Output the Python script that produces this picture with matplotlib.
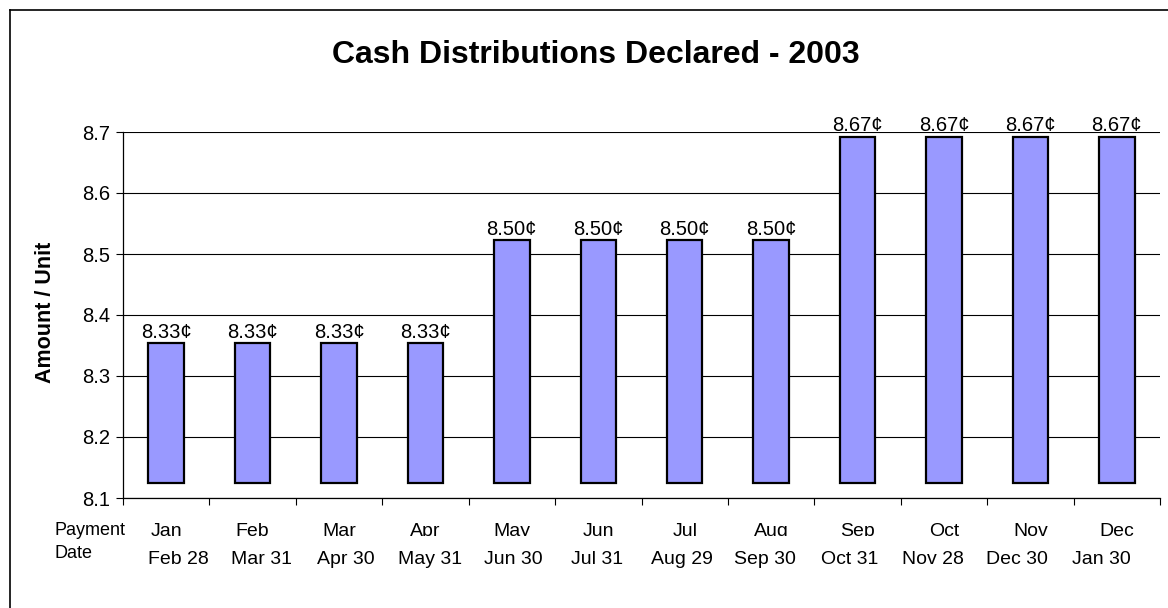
import matplotlib
matplotlib.use("Agg")
import matplotlib.pyplot as plt
import matplotlib.transforms as mtransforms
from matplotlib.patches import Rectangle
from matplotlib.lines import Line2D

# ---- data ----
months = ["Jan", "Feb", "Mar", "Apr", "May", "Jun",
          "Jul", "Aug", "Sep", "Oct", "Nov", "Dec"]
payment_dates = ["Feb 28", "Mar 31", "Apr 30", "May 31", "Jun 30", "Jul 31",
                 "Aug 29", "Sep 30", "Oct 31", "Nov 28", "Dec 30", "Jan 30"]
amount_labels = [8.33, 8.33, 8.33, 8.33, 8.50, 8.50,
                 8.50, 8.50, 8.67, 8.67, 8.67, 8.67]
# bar tops / bottom as read on the value axis
bar_tops = [8.354, 8.354, 8.354, 8.354, 8.523, 8.523,
            8.523, 8.523, 8.692, 8.692, 8.692, 8.692]
bar_bottom = 8.124
y_ticks = [8.1, 8.2, 8.3, 8.4, 8.5, 8.6, 8.7]

FONT = "Liberation Sans"
plt.rcParams["font.family"] = [FONT, "DejaVu Sans"]

fig = plt.figure(figsize=(11.68, 6.08), dpi=100)
W, H = 1168, 608
ax = fig.add_axes([123 / W, 1 - 498 / H, (1160 - 123) / W, (498 - 132) / H])

n = len(months)
x = list(range(n))
heights = [t - bar_bottom for t in bar_tops]
ax.bar(x, heights, bottom=bar_bottom, width=0.41, color="#9999FF",
       edgecolor="black", linewidth=1.6, zorder=3)

for xi, top, v in zip(x, bar_tops, amount_labels):
    ax.annotate(f"{v:.2f}¢", (xi, top), xytext=(0, 1), textcoords="offset points",
                ha="center", va="bottom", fontsize=14.5, zorder=4)

ax.set_xlim(-0.5, n - 0.5)
ax.set_ylim(8.1, 8.7)
ax.set_yticks(y_ticks)
ax.set_yticklabels([f"{t:.1f}" for t in y_ticks], fontsize=14.5)
ax.yaxis.grid(True, color="black", linewidth=0.8, zorder=0)
ax.set_axisbelow(True)

# category boundary ticks
ax.set_xticks([i - 0.5 for i in range(n + 1)])
ax.set_xticklabels([])
ax.tick_params(axis="x", direction="out", length=5, width=0.8)
ax.tick_params(axis="y", direction="out", length=5, width=0.8, pad=4)

for s in ["top", "right"]:
    ax.spines[s].set_visible(False)
ax.spines["left"].set_linewidth(0.9)
ax.spines["bottom"].set_linewidth(0.9)

fig.text(45.5 / W, 1 - 312 / H, "Amount / Unit", rotation=90, ha="center",
         va="center", fontsize=15.5, fontweight="bold")

# month row (clipped at the baseline as in the reference)
blend = mtransforms.blended_transform_factory(ax.transData, fig.transFigure)
clip = Rectangle((0, 1 - 535.5 / H), 1, 40 / H, transform=fig.transFigure)
for xi, m in zip(x, months):
    t = ax.text(xi, 1 - 535.5 / H, m, ha="center", va="baseline",
                fontsize=14, transform=blend, clip_on=True)
    t.set_clip_path(clip)

# payment date row
x0, x1 = 178, 1101
for i, d in enumerate(payment_dates):
    px = x0 + (x1 - x0) * i / (n - 1)
    fig.text(px / W, 1 - 564 / H, d, ha="center", va="baseline", fontsize=14)

fig.text(55 / W, 1 - 535 / H, "Payment", ha="left", va="baseline", fontsize=13)
fig.text(55 / W, 1 - 558 / H, "Date", ha="left", va="baseline", fontsize=13)

fig.text(596 / W, 1 - 63 / H, "Cash Distributions Declared - 2003",
         ha="center", va="baseline", fontsize=23, fontweight="bold")

# chart border (left and top visible)
fig.add_artist(Line2D([9.5 / W, 9.5 / W], [0, 1 - 10 / H], transform=fig.transFigure,
                      color="black", linewidth=1.2))
fig.add_artist(Line2D([9.5 / W, 1], [1 - 10 / H, 1 - 10 / H], transform=fig.transFigure,
                      color="black", linewidth=1.2))

fig.savefig("out.png", dpi=100)
